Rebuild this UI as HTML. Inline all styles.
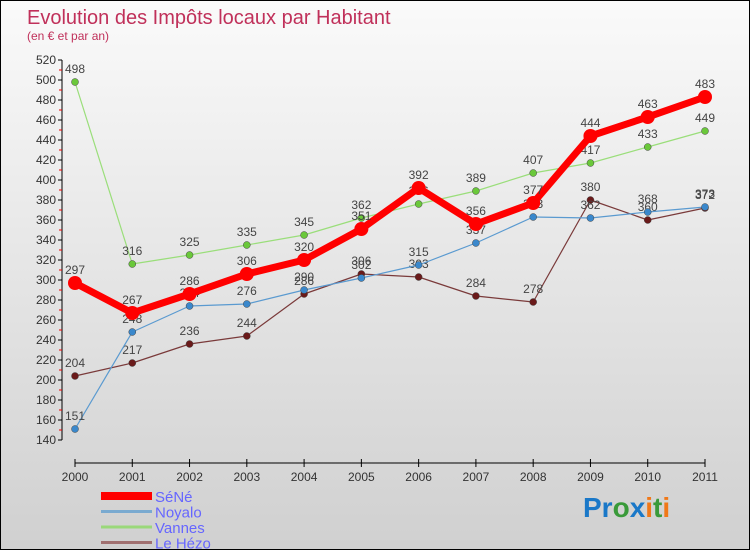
<!DOCTYPE html>
<html><head><meta charset="utf-8"><style>
body{margin:0}
#c{width:748px;height:548px;border:1px solid #000;background:linear-gradient(#fafafa,#d0d0d0);position:relative;font-family:"Liberation Sans",sans-serif}
</style></head><body>
<div id="c">
<svg id="s" width="748" height="548" style="position:absolute;left:0;top:0">
<text x="26" y="23" font-size="20" fill="#c0305a">Evolution des Impôts locaux par Habitant</text>
<text x="26" y="39" font-size="12" fill="#c0305a">(en € et par an)</text>
<g id="ax"></g><g id="ser"></g><g id="leg"></g>
<text x="582" y="516" font-size="28" font-weight="bold"><tspan fill="#1a78c8">Pr</tspan><tspan fill="#3a9a3a">o</tspan><tspan fill="#1a78c8">x</tspan><tspan fill="#f07818">i</tspan><tspan fill="#3a9a3a">t</tspan><tspan fill="#f07818">i</tspan></text>
</svg>
</div>
<script>
const years=[2000,2001,2002,2003,2004,2005,2006,2007,2008,2009,2010,2011];
const yTicks=[140,160,180,200,220,240,260,280,300,320,340,360,380,400,420,440,460,480,500,520];
const seneVals=[297,267,286,306,320,351,392,356,377,444,463,483];
const noyaloVals=[151,248,274,276,290,302,315,337,363,362,368,373];
const vannesVals=[498,316,325,335,345,362,376,389,407,417,433,449];
const hezoVals=[204,217,236,244,286,306,303,284,278,380,360,372];
const seriesNames=["SéNé","Noyalo","Vannes","Le Hézo"];
const NS="http://www.w3.org/2000/svg";
const X=i=>74+i*(630/11), Y=v=>59+(520-v);
function mk(t,a,p){const e=document.createElementNS(NS,t);for(const k in a)e.setAttribute(k,a[k]);p.appendChild(e);return e;}
const ax=document.getElementById('ax');
mk('line',{x1:61,y1:Y(520),x2:61,y2:Y(140),stroke:'#000'},ax);
mk('line',{x1:74,y1:462,x2:704,y2:462,stroke:'#000'},ax);
yTicks.forEach((v,i)=>{
 mk('line',{x1:57,y1:Y(v),x2:61,y2:Y(v),stroke:'#000'},ax);
 if(i<yTicks.length-1) mk('line',{x1:58,y1:Y(v+10),x2:61,y2:Y(v+10),stroke:'#e00'},ax);
 const t=mk('text',{x:55,y:Y(v)+4,'font-size':12,fill:'#333','text-anchor':'end'},ax);t.textContent=v;
 
 
});
years.forEach((y,i)=>{
 mk('line',{x1:X(i),y1:458,x2:X(i),y2:466,stroke:'#000'},ax);
 const t=mk('text',{x:X(i),y:480,'font-size':12,fill:'#333','text-anchor':'middle'},ax);t.textContent=y;
 
 
});
const ser=document.getElementById('ser');
const defs=[[hezoVals,'#7a3a3a','#6a1a1a',1.2,3.5],[noyaloVals,'#5a9ad0','#3a88cc',1.2,3.5],[vannesVals,'#9ade7a','#6ac83a',1.2,3.5],[seneVals,'#f00','#f00',7,7]];
const keys=['le-hezo','noyalo','vannes','sene'];
defs.forEach((d,si)=>{
 const g=mk('g',{},ser);
 
 
 mk('polyline',{points:d[0].map((v,i)=>X(i)+','+Y(v)).join(' '),fill:'none',stroke:d[1],'stroke-width':d[3],'stroke-linejoin':'round'},g);
 d[0].forEach((v,i)=>{
  const c=mk('circle',{cx:X(i),cy:Y(v),r:d[4],fill:d[2],stroke:si<3?'#444':'#f00','stroke-width':si<3?0.5:0},g);
  
  
  const t=mk('text',{x:X(i),y:Y(v)-9,'font-size':12,fill:'#444','text-anchor':'middle'},g);t.textContent=v;
  
  
 });
});
const leg=document.getElementById('leg');
const lc=['#f00','#7aaad0','#9ad87a','#a07070'],lw=[8,3,3,3];
seriesNames.forEach((n,i)=>{
 const g=mk('g',{},leg);
 
 
 const y=495+i*15.5;
 mk('line',{x1:100,y1:y,x2:151,y2:y,stroke:lc[i],'stroke-width':lw[i]},g);
 const t=mk('text',{x:154,y:y+6,'font-size':15,fill:'#6666ff'},g);t.textContent=n;
});
</script>
</body></html>
